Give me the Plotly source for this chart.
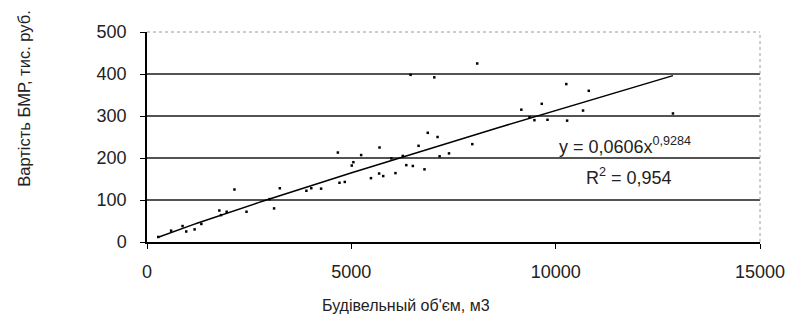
import numpy as np
import plotly.graph_objects as go

# Data points (building volume m3, cost thousand rub.)
volume = [275, 590, 870, 960, 1165, 1330, 1770, 1810, 1950, 2140, 2435, 3000, 3110, 3250,
          3900, 4020, 4260, 4670, 4710, 4840, 5010, 5050, 5240, 5480, 5680, 5690, 5780,
          5980, 6080, 6260, 6345, 6450, 6505, 6645, 6790, 6870, 7030, 7110, 7160, 7390,
          7960, 8080, 9160, 9360, 9480, 9660, 9800, 10260, 10280, 10670, 10810, 12870]
cost = [12, 27, 38, 25, 30, 43, 75, 64, 72, 125, 72, 102, 80, 128,
        122, 128, 127, 213, 141, 143, 182, 190, 207, 152, 163, 225, 157,
        199, 164, 205, 183, 398, 181, 229, 173, 260, 392, 250, 204, 211,
        233, 425, 315, 297, 290, 329, 291, 376, 289, 313, 360, 306]

# Power trendline coefficients shown on the chart
coef_a = 0.0606
coef_b = 0.9284
r_squared = "0,954"

x_ticks = [0, 5000, 10000, 15000]
y_ticks = [0, 100, 200, 300, 400, 500]
grid_vals = [100, 200, 300, 400]

trend_x = np.linspace(min(volume), max(volume), 200)
trend_y = coef_a * trend_x ** coef_b

fig = go.Figure()
fig.add_trace(go.Scatter(x=volume, y=cost, mode="markers",
                         marker=dict(symbol="square", size=2.5, color="black",
                                     line=dict(width=0)),
                         showlegend=False, hoverinfo="skip"))
fig.add_trace(go.Scatter(x=trend_x, y=trend_y, mode="lines",
                         line=dict(color="black", width=1.5),
                         showlegend=False, hoverinfo="skip"))

shapes = []
for g in grid_vals:
    shapes.append(dict(type="line", xref="paper", yref="y", x0=0, x1=1, y0=g, y1=g,
                       line=dict(color="#1a1a1a", width=1.6), layer="below"))
shapes.append(dict(type="line", xref="paper", yref="paper", x0=0, x1=1, y0=1, y1=1,
                   line=dict(color="#9a9a9a", width=1, dash="dot")))
shapes.append(dict(type="line", xref="paper", yref="paper", x0=1, x1=1, y0=0, y1=1,
                   line=dict(color="#9a9a9a", width=1, dash="dot")))

font_fam = "Arial, Liberation Sans, sans-serif"
tick_font = dict(family=font_fam, size=18, color="#222")

fig.update_layout(
    width=797, height=320,
    margin=dict(l=147, r=33, t=32, b=78),
    paper_bgcolor="white", plot_bgcolor="white",
    shapes=shapes,
    xaxis=dict(range=[0, 15000], tickvals=x_ticks, ticktext=[str(v) for v in x_ticks],
               showgrid=False, zeroline=False, showline=True, linecolor="black",
               linewidth=1.5, ticks="outside", ticklen=5, tickcolor="black",
               tickfont=tick_font, ticklabelstandoff=8, fixedrange=True),
    yaxis=dict(range=[0, 500], tickvals=y_ticks, ticktext=[str(v) for v in y_ticks],
               showgrid=False, zeroline=False, showline=True, linecolor="black",
               linewidth=1.5, ticks="outside", ticklen=5, tickcolor="black",
               tickfont=tick_font, ticklabelstandoff=10, fixedrange=True),
    annotations=[
        dict(text="Вартість БМР, тис. руб.", xref="paper", yref="paper",
             x=-0.201, y=0.686, textangle=-90, showarrow=False,
             xanchor="center", yanchor="middle",
             font=dict(family=font_fam, size=16.5, color="#222")),
        dict(text="Будівельный об'єм, м3", xref="paper", yref="paper",
             x=0.423, y=-0.30, showarrow=False, xanchor="center", yanchor="middle",
             font=dict(family=font_fam, size=16, color="#222")),
        dict(text="y = " + f"{coef_a}".replace(".", ",") + "x<sup>" + f"{coef_b}".replace(".", ",") + "</sup>",
             xref="paper", yref="paper", x=0.78, y=0.46, showarrow=False,
             xanchor="center", yanchor="middle",
             font=dict(family=font_fam, size=18, color="#222")),
        dict(text="R<sup>2</sup> = " + r_squared,
             xref="paper", yref="paper", x=0.786, y=0.314, showarrow=False,
             xanchor="center", yanchor="middle",
             font=dict(family=font_fam, size=18, color="#222")),
    ],
)

fig.write_html("out.html")
